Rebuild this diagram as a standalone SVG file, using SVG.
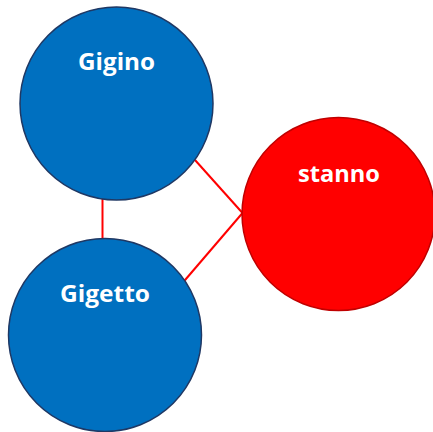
<svg xmlns="http://www.w3.org/2000/svg" width="433" height="432" viewBox="0 0 433 432">
  <style>
    .blue { fill: #0070C0; stroke: #1F3864; stroke-width: 1.5; }
    .red { fill: #FF0000; stroke: #C00000; stroke-width: 1.5; }
    .label { font-family: "Open Sans", "Noto Sans", "Liberation Sans", sans-serif; font-weight: bold; font-size: 23px; fill: #FFFFFF; text-anchor: middle; }
    .link { stroke: #FF0000; stroke-width: 2; fill: none; }
  </style>
  <rect width="433" height="432" fill="#FFFFFF"/>
  <g id="connectors">
    <line class="link" x1="102.5" y1="199" x2="102.5" y2="239"/>
    <line class="link" x1="195" y1="160" x2="242.5" y2="213"/>
    <line class="link" x1="182.5" y1="283" x2="242.5" y2="213"/>
  </g>
  <g id="gigino">
    <circle class="blue" cx="116.5" cy="103.5" r="96.5"/>
    <text class="label" x="116.5" y="70" textLength="77" lengthAdjust="spacingAndGlyphs">Gigino</text>
  </g>
  <g id="gigetto">
    <circle class="blue" cx="105" cy="335" r="96.5"/>
    <text class="label" x="105" y="302" textLength="90" lengthAdjust="spacingAndGlyphs">Gigetto</text>
  </g>
  <g id="stanno">
    <circle class="red" cx="338.5" cy="214" r="96.5"/>
    <text class="label" x="339" y="182" textLength="82" lengthAdjust="spacingAndGlyphs">stanno</text>
  </g>
</svg>
